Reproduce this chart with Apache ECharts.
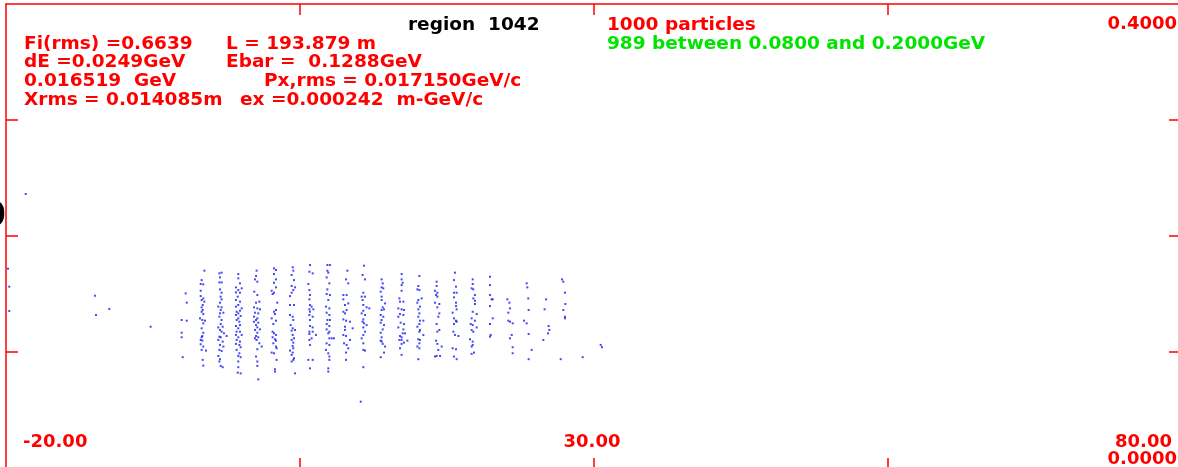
<!DOCTYPE html>
<html>
<head>
<meta charset="utf-8">
<script src="https://cdn.jsdelivr.net/npm/echarts@6/dist/echarts.min.js"></script>
<style>
html,body{margin:0;padding:0;background:#fff;}
#chart{width:1178px;height:467px;}
</style>
</head>
<body>
<div id="chart"></div>
<script>
// ---- axis settings / tick labels ----
const xRange = [-20, 80];
const yRange = [0, 0.4];
const xTickLabels = {'-20': '-20.00', '30': '30.00', '80': '80.00'};
const yTickLabels = {'0': '0.0000', '0.4': '0.4000'};

// ---- header texts ----
const titleText = 'region  1042';
const statsLeft = ['Fi(rms) =0.6639', 'dE =0.0249GeV', '0.016519  GeV', 'Xrms = 0.014085m'];
const statsRight = ['L = 193.879 m', 'Ebar =  0.1288GeV', 'Px,rms = 0.017150GeV/c', 'ex =0.000242  m-GeV/c'];
const countText = '1000 particles';
const rangeText = '989 between 0.0800 and 0.2000GeV';

// ---- particles [phase, energy GeV], grouped by bunch ----
const outliers = [[-18.32,0.2362],[-19.83,0.1718],[-19.72,0.1563],[-19.72,0.1353],[-12.43,0.1485],[-12.34,0.1319],[-11.21,0.1371],[-7.69,0.1218],[10.19,0.0572]];
const b01 = [[-4.71,0.1505],[-4.62,0.1425],[-5.05,0.1276],[-4.62,0.1270],[-5.05,0.1166],[-5.05,0.1127],[-4.96,0.0955]];
const b02 = [[-3.12,0.1701],[-3.35,0.1620],[-3.43,0.1586],[-3.21,0.1583],[-3.43,0.1528],[-3.43,0.1482],[-3.21,0.1462],[-3.35,0.1448],[-3.12,0.1434],[-3.26,0.1405],[-3.35,0.1385],[-3.26,0.1362],[-3.35,0.1347],[-3.21,0.1327],[-3.49,0.1290],[-3.29,0.1276],[-3.06,0.1270],[-3.21,0.1247],[-3.35,0.1204],[-3.21,0.1166],[-3.29,0.1138],[-3.35,0.1127],[-3.43,0.1104],[-3.29,0.1098],[-3.43,0.1067],[-3.21,0.1047],[-3.35,0.1018],[-2.98,0.1012],[-3.26,0.0932],[-3.21,0.0883]];
const b03 = [[-1.84,0.1678],[-1.65,0.1684],[-1.79,0.1643],[-1.84,0.1600],[-1.65,0.1600],[-1.79,0.1540],[-1.65,0.1511],[-1.73,0.1477],[-1.65,0.1454],[-1.79,0.1425],[-1.93,0.1391],[-1.65,0.1385],[-1.73,0.1362],[-1.79,0.1333],[-1.50,0.1339],[-1.84,0.1304],[-1.65,0.1276],[-1.73,0.1241],[-1.56,0.1218],[-1.93,0.1212],[-1.79,0.1190],[-1.65,0.1175],[-1.45,0.1161],[-1.84,0.1132],[-1.73,0.1127],[-1.22,0.1138],[-1.93,0.1104],[-1.56,0.1090],[-1.79,0.1061],[-1.50,0.1047],[-1.84,0.1018],[-1.65,0.1009],[-1.93,0.0966],[-1.79,0.0938],[-1.84,0.0918],[-1.73,0.0880],[-1.56,0.0869]];
const b04 = [[-0.23,0.1672],[-0.23,0.1635],[-0.09,0.1592],[-0.43,0.1557],[-0.23,0.1534],[0.06,0.1549],[-0.43,0.1514],[-0.09,0.1511],[-0.28,0.1477],[-0.43,0.1448],[-0.09,0.1434],[-0.23,0.1405],[-0.43,0.1391],[0.06,0.1376],[-0.37,0.1347],[-0.09,0.1356],[-0.23,0.1333],[-0.43,0.1319],[-0.03,0.1310],[-0.23,0.1290],[-0.37,0.1276],[-0.14,0.1261],[-0.43,0.1224],[-0.09,0.1232],[-0.23,0.1204],[-0.37,0.1175],[-0.09,0.1175],[-0.43,0.1147],[0.06,0.1147],[-0.23,0.1127],[-0.37,0.1104],[-0.09,0.1090],[-0.43,0.1070],[-0.14,0.1061],[-0.03,0.1041],[-0.37,0.1018],[-0.14,0.0989],[-0.23,0.0966],[-0.03,0.0955],[-0.23,0.0918],[-0.23,0.0869],[-0.28,0.0822],[-0.03,0.0816]];
const b05 = [[1.33,0.1701],[1.28,0.1655],[1.19,0.1626],[1.39,0.1606],[1.13,0.1520],[1.39,0.1491],[1.56,0.1434],[1.28,0.1425],[1.11,0.1385],[1.39,0.1376],[1.62,0.1368],[1.19,0.1339],[1.47,0.1333],[1.11,0.1304],[1.39,0.1290],[1.28,0.1276],[1.11,0.1261],[1.47,0.1253],[1.28,0.1232],[1.39,0.1212],[1.62,0.1195],[1.19,0.1190],[1.39,0.1166],[1.28,0.1138],[1.47,0.1127],[1.19,0.1118],[1.33,0.1104],[1.56,0.1075],[1.76,0.1047],[1.39,0.1024],[1.28,0.0961],[1.39,0.0918],[1.39,0.0880],[1.47,0.0764]];
const b06 = [[2.81,0.1721],[2.98,0.1707],[2.81,0.1672],[2.98,0.1626],[2.81,0.1597],[2.98,0.1557],[2.61,0.1528],[2.81,0.1511],[2.69,0.1500],[3.09,0.1425],[2.81,0.1347],[2.98,0.1362],[2.89,0.1327],[2.61,0.1290],[2.98,0.1270],[2.75,0.1241],[2.69,0.1175],[2.81,0.1161],[2.98,0.1147],[2.69,0.1127],[2.89,0.1110],[2.98,0.1098],[2.75,0.1075],[2.98,0.1047],[3.03,0.1032],[2.61,0.0995],[2.81,0.0989],[3.03,0.0932],[2.89,0.0851],[2.89,0.0831]];
const b07 = [[4.40,0.1730],[4.45,0.1701],[4.31,0.1664],[4.51,0.1620],[4.31,0.1569],[4.60,0.1557],[4.45,0.1534],[4.31,0.1511],[4.17,0.1482],[4.17,0.1405],[4.51,0.1405],[4.17,0.1319],[4.40,0.1304],[4.45,0.1276],[4.23,0.1232],[4.40,0.1204],[4.60,0.1190],[4.31,0.1184],[4.40,0.1147],[4.51,0.1118],[4.31,0.1104],[4.45,0.1081],[4.40,0.1052],[4.45,0.1032],[4.17,0.1012],[4.40,0.0995],[4.31,0.0975],[4.51,0.0946],[4.45,0.0932],[4.31,0.0918],[4.60,0.0816]];
const b08 = [[5.87,0.1750],[5.82,0.1692],[6.10,0.1678],[5.73,0.1586],[5.82,0.1534],[5.87,0.1491],[5.82,0.1454],[5.87,0.1405],[6.01,0.1391],[5.82,0.1368],[6.16,0.1368],[5.87,0.1347],[5.82,0.1319],[6.10,0.1304],[5.87,0.1276],[5.87,0.1224],[6.10,0.1212],[5.82,0.1175],[6.10,0.1175],[5.82,0.1155],[6.38,0.1147],[6.01,0.1118],[5.82,0.1104],[5.87,0.1061],[5.73,0.0932],[6.10,0.0932],[5.87,0.0859]];
const b09 = [[7.35,0.1750],[7.57,0.1750],[7.35,0.1701],[7.43,0.1684],[7.29,0.1643],[7.52,0.1592],[7.35,0.1540],[7.29,0.1500],[7.57,0.1491],[7.43,0.1448],[7.23,0.1391],[7.52,0.1376],[7.29,0.1339],[7.52,0.1319],[7.35,0.1276],[7.57,0.1276],[7.29,0.1241],[7.52,0.1224],[7.29,0.1195],[7.52,0.1175],[7.43,0.1161],[7.52,0.1118],[7.72,0.1118],[7.91,0.1118],[7.29,0.1075],[7.52,0.1061],[7.23,0.1018],[7.43,0.0989],[7.52,0.0961],[7.52,0.0932],[7.43,0.0859],[7.43,0.0831]];
const b10 = [[9.05,0.1701],[8.94,0.1626],[9.13,0.1592],[8.71,0.1491],[8.99,0.1491],[8.71,0.1454],[8.85,0.1405],[9.13,0.1419],[8.71,0.1347],[8.99,0.1362],[8.85,0.1333],[8.71,0.1281],[8.94,0.1270],[9.28,0.1261],[8.85,0.1218],[8.85,0.1190],[9.50,0.1204],[8.71,0.1147],[8.94,0.1138],[9.28,0.1104],[8.77,0.1075],[8.99,0.1061],[9.13,0.1032],[8.94,0.0995],[8.94,0.0932]];
const b11 = [[10.47,0.1744],[10.35,0.1664],[10.55,0.1626],[10.41,0.1511],[10.27,0.1477],[10.55,0.1477],[10.35,0.1448],[10.41,0.1405],[10.69,0.1385],[10.41,0.1356],[10.92,0.1376],[10.27,0.1333],[10.55,0.1319],[10.41,0.1281],[10.35,0.1261],[10.47,0.1247],[10.69,0.1232],[10.41,0.1212],[10.55,0.1175],[10.41,0.1147],[10.27,0.1118],[10.41,0.1075],[10.41,0.1018],[10.55,0.1012],[10.41,0.0869]];
const b12 = [[11.97,0.1626],[12.06,0.1592],[11.97,0.1557],[12.11,0.1549],[11.89,0.1520],[11.97,0.1477],[11.97,0.1448],[12.26,0.1419],[12.06,0.1385],[12.17,0.1368],[11.97,0.1362],[11.89,0.1319],[12.11,0.1304],[11.97,0.1276],[11.89,0.1253],[12.17,0.1232],[12.06,0.1195],[11.89,0.1166],[11.97,0.1127],[11.89,0.1098],[11.97,0.1090],[12.06,0.1070],[12.26,0.1047],[12.17,0.0995],[11.89,0.0955]];
const b13 = [[13.67,0.1672],[13.67,0.1626],[13.76,0.1597],[13.67,0.1577],[13.67,0.1528],[13.48,0.1462],[13.53,0.1434],[13.82,0.1434],[13.39,0.1376],[13.67,0.1368],[13.87,0.1362],[13.53,0.1327],[13.82,0.1319],[13.39,0.1304],[13.59,0.1253],[13.87,0.1241],[13.82,0.1195],[13.39,0.1212],[13.96,0.1161],[13.76,0.1161],[13.53,0.1138],[13.67,0.1127],[13.48,0.1104],[13.67,0.1104],[13.87,0.1081],[14.16,0.1098],[13.67,0.1070],[13.53,0.1032],[13.67,0.0975]];
const b14 = [[15.18,0.1655],[15.09,0.1569],[15.01,0.1540],[15.18,0.1534],[15.38,0.1462],[15.09,0.1448],[15.01,0.1425],[15.23,0.1391],[15.09,0.1368],[15.18,0.1333],[15.09,0.1304],[15.23,0.1270],[15.52,0.1270],[15.18,0.1241],[15.01,0.1218],[15.23,0.1190],[15.18,0.1175],[15.52,0.1147],[15.09,0.1110],[15.23,0.1104],[15.18,0.1075],[15.01,0.1047],[15.18,0.1032],[15.09,0.0938]];
const b15 = [[16.65,0.1606],[16.65,0.1569],[16.51,0.1528],[16.71,0.1511],[16.60,0.1491],[16.71,0.1477],[16.51,0.1425],[16.88,0.1414],[16.71,0.1385],[16.88,0.1333],[16.79,0.1304],[16.65,0.1241],[16.88,0.1190],[16.71,0.1175],[16.60,0.1098],[16.71,0.1070],[17.08,0.1047],[16.79,0.1018],[16.65,0.0966],[16.51,0.0961],[16.94,0.0966]];
const b16 = [[18.21,0.1684],[18.13,0.1620],[18.30,0.1563],[18.13,0.1511],[18.35,0.1511],[18.13,0.1471],[18.30,0.1425],[18.30,0.1396],[18.35,0.1368],[18.01,0.1339],[18.13,0.1290],[18.30,0.1270],[18.35,0.1261],[18.13,0.1241],[18.07,0.1175],[18.21,0.1147],[18.50,0.1138],[18.01,0.1032],[18.30,0.1024],[18.13,0.0961],[18.35,0.0938]];
const b17 = [[19.72,0.1626],[19.72,0.1586],[19.63,0.1549],[19.77,0.1540],[19.91,0.1491],[19.77,0.1462],[19.91,0.1442],[19.91,0.1414],[19.72,0.1347],[20.06,0.1327],[19.63,0.1290],[19.91,0.1270],[19.55,0.1241],[19.72,0.1232],[20.06,0.1212],[19.63,0.1190],[19.77,0.1175],[19.49,0.1110],[19.72,0.1090],[19.72,0.1061],[19.63,0.1047],[19.83,0.0995],[19.63,0.0984]];
const b18 = [[21.19,0.1649],[21.19,0.1577],[21.19,0.1491],[21.33,0.1454],[21.42,0.1454],[21.19,0.1396],[21.42,0.1290],[21.19,0.1241],[21.25,0.1147],[21.19,0.1132]];
const b19 = [[22.67,0.1454],[22.84,0.1425],[22.89,0.1376],[22.75,0.1339],[22.75,0.1270],[22.89,0.1261],[23.12,0.1247],[23.04,0.1147],[22.89,0.1118],[23.12,0.1041],[23.12,0.0989]];
const b20 = [[24.31,0.1592],[24.37,0.1557],[24.45,0.1462],[24.48,0.1362],[24.09,0.1270],[24.31,0.1247],[24.48,0.1155],[24.74,0.1018],[24.48,0.0938]];
const b21 = [[25.96,0.1454],[25.84,0.1368],[26.18,0.1224],[26.24,0.1190],[26.13,0.1161],[25.73,0.1104]];
const b22 = [[27.32,0.1626],[27.43,0.1606],[27.57,0.1511],[27.60,0.1414],[27.43,0.1362],[27.57,0.1304],[27.57,0.1290],[27.21,0.0938]];
const tail = [[29.08,0.0955],[30.61,0.1061],[30.72,0.1041]];

const particles = [].concat(outliers, b01, b02, b03, b04, b05, b06, b07, b08, b09, b10, b11, b12, b13, b14, b15, b16, b17, b18, b19, b20, b21, b22, tail);

// ---- styling ----
const RED = '#ff0000';
const GREEN = '#00e400';
const FONT = 'bold 18.5px "DejaVu Sans"';
const lineStyle = {color: RED, width: 1.5};
const tickStyle = {color: RED, width: 1.5};

const chart = echarts.init(document.getElementById('chart'), null, {renderer: 'canvas'});

const textEl = (txt, x, y, fill) => ({
  type: 'text', x: x, y: y, silent: true,
  style: {text: txt, font: FONT, fill: fill, verticalAlign: 'middle', align: 'left'}
});

const graphics = [
  textEl(titleText, 408, 25, '#000000'),
  textEl(countText, 607, 25, RED),
  textEl(rangeText, 607, 44, GREEN),
  {type: 'text', x: 6, y: 217, silent: true,
   style: {text: '0', font: 'bold 36px "DejaVu Sans"', fill: '#000', align: 'right', verticalAlign: 'middle'}}
];
const rowY = [44, 62.5, 81, 100];
const rightX = [226, 226, 264, 240];
statsLeft.forEach((t, i) => graphics.push(textEl(t, 24, rowY[i], RED)));
statsRight.forEach((t, i) => graphics.push(textEl(t, rightX[i], rowY[i], RED)));

const labelFont = {fontFamily: 'DejaVu Sans', fontWeight: 'bold', fontSize: 18, color: RED};

const option = {
  backgroundColor: '#ffffff',
  animation: false,
  grid: {left: 6, top: 4, width: 1175, height: 464, containLabel: false, outerBoundsMode: 'none'},
  xAxis: [
    {
      type: 'value', position: 'bottom', min: xRange[0], max: xRange[1], interval: 25,
      axisLine: {show: true, onZero: false, lineStyle: lineStyle},
      axisTick: {show: true, inside: true, length: 10, customValues: [5, 30, 55], lineStyle: tickStyle},
      splitLine: {show: false},
      axisLabel: {
        show: true, inside: true, margin: 17,
        customValues: [-20, 30, 80],
        alignMinLabel: 'left', alignMaxLabel: 'right',
        formatter: function (v) {
          const s = xTickLabels[String(v)] || '';
          if (v === xRange[0]) return '{l|' + s + '}';
          if (v === xRange[1]) return '{r|' + s + '}';
          return '{c|' + s + '}';
        },
        rich: {
          l: Object.assign({padding: [0, 0, 0, 17]}, labelFont),
          r: Object.assign({padding: [0, 9, 0, 0]}, labelFont),
          c: Object.assign({padding: [0, 3, 0, 0]}, labelFont)
        }
      }
    },
    {
      type: 'value', position: 'top', min: xRange[0], max: xRange[1], interval: 25,
      axisLine: {show: true, onZero: false, lineStyle: lineStyle},
      axisTick: {show: true, inside: true, length: 11, customValues: [5, 30, 55], lineStyle: tickStyle},
      splitLine: {show: false},
      axisLabel: {show: false}
    }
  ],
  yAxis: [
    {
      type: 'value', position: 'left', min: yRange[0], max: yRange[1], interval: 0.1,
      axisLine: {show: true, onZero: false, lineStyle: lineStyle},
      axisTick: {show: true, inside: true, length: 12, customValues: [0.1, 0.2, 0.3], lineStyle: tickStyle},
      splitLine: {show: false},
      axisLabel: {show: false}
    },
    {
      type: 'value', position: 'right', min: yRange[0], max: yRange[1], interval: 0.1,
      axisLine: {show: true, onZero: false, lineStyle: lineStyle},
      axisTick: {show: true, inside: true, length: 12, customValues: [0.1, 0.2, 0.3], lineStyle: tickStyle},
      splitLine: {show: false},
      axisLabel: {
        show: true, inside: true, margin: 4,
        customValues: [0, 0.4],
        formatter: function (v) {
          const s = yTickLabels[String(v)] || '';
          return v > 0.2 ? '{t|' + s + '}' : '{b|' + s + '}';
        },
        rich: {
          t: Object.assign({padding: [41, 0, 0, 0]}, labelFont),
          b: Object.assign({padding: [0, 0, 17, 0]}, labelFont)
        }
      }
    }
  ],
  series: [{
    type: 'scatter',
    xAxisIndex: 0, yAxisIndex: 0,
    symbol: 'rect', symbolSize: 2,
    itemStyle: {color: 'rgba(0,0,240,0.9)'},
    data: particles,
    silent: true
  }],
  graphic: graphics
};
chart.setOption(option);
</script>
</body>
</html>
